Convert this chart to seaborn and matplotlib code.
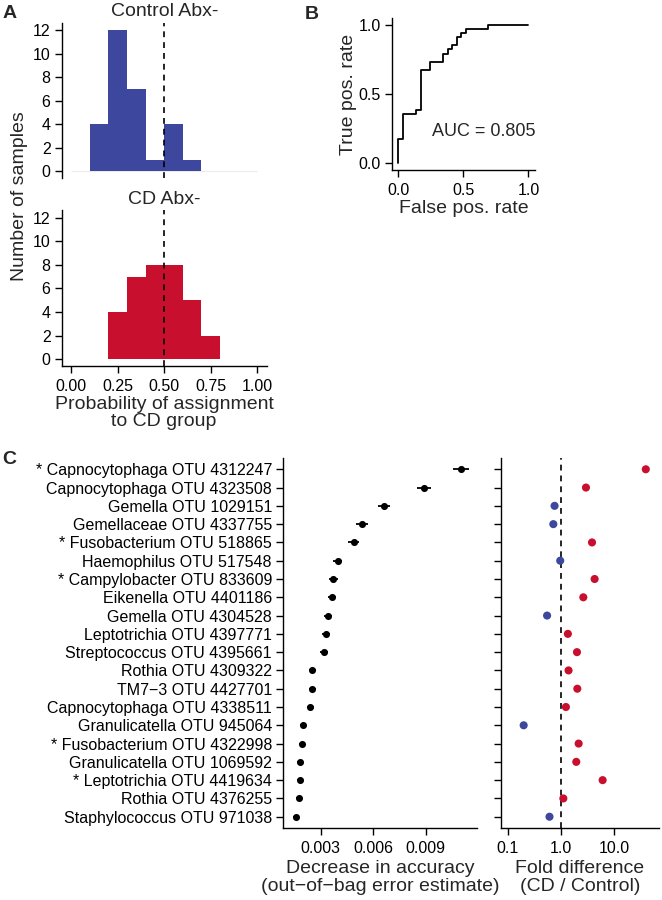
import numpy as np
import pandas as pd
import matplotlib
matplotlib.use("Agg")
import matplotlib.pyplot as plt
import seaborn as sns

# ---------------- data ----------------
bin_edges = [0.0, 0.1, 0.2, 0.3, 0.4, 0.5, 0.6, 0.7, 0.8, 0.9, 1.0]
bin_centers = [0.05, 0.15, 0.25, 0.35, 0.45, 0.55, 0.65, 0.75, 0.85, 0.95]
control_counts = [0, 4, 12, 7, 1, 4, 1, 0, 0, 0]
cd_counts = [0, 0, 4, 7, 8, 8, 5, 2, 0, 0]

roc_fpr = [0.0, 0.0, 0.034, 0.138, 0.172, 0.241, 0.345, 0.379, 0.414, 0.448, 0.483, 0.517, 0.690, 1.0]
roc_tpr = [0.0, 0.176, 0.353, 0.382, 0.676, 0.735, 0.794, 0.824, 0.853, 0.912, 0.941, 0.971, 1.0, 1.0]
auc_text = "AUC = 0.805"

otu_labels = [
    "* Capnocytophaga OTU 4312247",
    "Capnocytophaga OTU 4323508",
    "Gemella OTU 1029151",
    "Gemellaceae OTU 4337755",
    "* Fusobacterium OTU 518865",
    "Haemophilus OTU 517548",
    "* Campylobacter OTU 833609",
    "Eikenella OTU 4401186",
    "Gemella OTU 4304528",
    "Leptotrichia OTU 4397771",
    "Streptococcus OTU 4395661",
    "Rothia OTU 4309322",
    "TM7\u22123 OTU 4427701",
    "Capnocytophaga OTU 4338511",
    "Granulicatella OTU 945064",
    "* Fusobacterium OTU 4322998",
    "Granulicatella OTU 1069592",
    "* Leptotrichia OTU 4419634",
    "Rothia OTU 4376255",
    "Staphylococcus OTU 971038",
]
decrease_acc = [0.01101, 0.00891, 0.00661, 0.00535, 0.00489, 0.00396, 0.00373, 0.00363,
                0.00340, 0.00330, 0.00317, 0.00252, 0.00252, 0.00239, 0.00199, 0.00191,
                0.00183, 0.00181, 0.00174, 0.00160]
decrease_err = [0.00046, 0.00041, 0.00036, 0.00033, 0.00032, 0.00026, 0.00024, 0.00024,
                0.00023, 0.00022, 0.00022, 0.00020, 0.00020, 0.00020, 0.00018, 0.00018,
                0.00017, 0.00017, 0.00016, 0.00016]
fold_diff = [39.1, 2.95, 0.76, 0.72, 3.83, 0.97, 4.29, 2.63, 0.55, 1.35,
             2.0, 1.39, 2.03, 1.24, 0.20, 2.15, 1.94, 6.06, 1.11, 0.61]
direction = ["CD", "CD", "Control", "Control", "CD", "Control", "CD", "CD", "Control", "CD",
             "CD", "CD", "CD", "CD", "Control", "CD", "CD", "CD", "CD", "Control"]

BLUE = "#3C479D"
RED = "#C8102E"

# ---------------- style ----------------
sns.set_style("ticks")
plt.rcParams["font.family"] = ["Liberation Sans", "DejaVu Sans"]
plt.rcParams["axes.linewidth"] = 1.0
plt.rcParams["xtick.major.width"] = 1.0
plt.rcParams["ytick.major.width"] = 1.0
plt.rcParams["xtick.major.size"] = 5
plt.rcParams["ytick.major.size"] = 5
plt.rcParams["xtick.color"] = "black"
plt.rcParams["ytick.color"] = "black"
plt.rcParams["axes.edgecolor"] = "black"
plt.rcParams["xtick.labelsize"] = 11.5
plt.rcParams["ytick.labelsize"] = 11.5
plt.rcParams["xtick.major.pad"] = 4.5
plt.rcParams["ytick.major.pad"] = 3

W, H = 662, 900
fig = plt.figure(figsize=(W / 100, H / 100), dpi=100)


def box(l, t, r, b):
    return [l / W, 1 - b / H, (r - l) / W, (b - t) / H]


def ftext(x, y, s, **kw):
    fig.text(x / W, 1 - y / H, s, **kw)


TITLE = 14
LAB = 14

# ---------------- Panel A ----------------
axA1 = fig.add_axes(box(61.7, 23.2, 266.7, 178.3))
axA2 = fig.add_axes(box(61.7, 210.5, 266.7, 366.2))
axA1.hlines(0, 0, 1, color="#ececec", lw=0.8, zorder=0)
for ax, counts, col in [(axA1, control_counts, BLUE), (axA2, cd_counts, RED)]:
    sns.histplot(x=bin_centers, weights=counts, bins=bin_edges, ax=ax, color=col,
                 element="step", fill=True, alpha=1, linewidth=0)
    ax.axvline(0.5, color="black", lw=1.2, ls=(0, (3.5, 3)))
    ax.set_xlim(-0.05, 1.05)
    ax.set_ylim(-0.6, 12.6)
    ax.set_yticks([0, 2, 4, 6, 8, 10, 12])
    ax.set_ylabel("")
    ax.set_xlabel("")
    sns.despine(ax=ax)
axA1.spines["bottom"].set_visible(False)
axA1.tick_params(axis="x", bottom=False, labelbottom=False)
axA2.set_xticks([0, 0.25, 0.5, 0.75, 1.0])
axA2.set_xticklabels(["0.00", "0.25", "0.50", "0.75", "1.00"])
axA1.set_title("Control Abx-", fontsize=TITLE, pad=5)
axA2.set_title("CD Abx-", fontsize=TITLE, pad=5)
ftext(164, 413, "Probability of assignment\nto CD group", fontsize=LAB, ha="center",
      va="center", linespacing=1.05)
ftext(20, 196, "Number of samples", fontsize=LAB, rotation=90, ha="center", va="center")

# ---------------- Panel B ----------------
axB = fig.add_axes(box(391.7, 18.3, 535, 170))
sns.lineplot(x=roc_fpr, y=roc_tpr, ax=axB, color="black", lw=1.3, sort=False,
             drawstyle="steps-post", estimator=None)
axB.set_xlim(-0.05, 1.05)
axB.set_ylim(-0.05, 1.05)
axB.set_xticks([0, 0.5, 1.0])
axB.set_xticklabels(["0.0", "0.5", "1.0"])
axB.set_yticks([0, 0.5, 1.0])
axB.set_yticklabels(["0.0", "0.5", "1.0"])
axB.set_xlabel("False pos. rate", fontsize=LAB, labelpad=1)
axB.set_ylabel("True pos. rate", fontsize=LAB, labelpad=1)
axB.text(0.655, 0.23, auc_text, fontsize=13, ha="center", va="center")
sns.despine(ax=axB)

# ---------------- Panel C ----------------
df = pd.DataFrame({"otu": otu_labels, "decrease": decrease_acc, "err": decrease_err,
                   "fold": fold_diff, "direction": direction})

axC1 = fig.add_axes(box(283, 458.3, 477.3, 827.7))
axC1.errorbar(df["decrease"], df["otu"], xerr=df["err"], fmt="none", ecolor="black",
              elinewidth=1.3, capsize=0)
sns.scatterplot(data=df, x="decrease", y="otu", color="black", s=26, linewidth=0, ax=axC1,
                zorder=3)
axC1.set_xlim(0.00084, 0.01196)
axC1.set_ylim(19.6, -0.6)
axC1.set_xticks([0.003, 0.006, 0.009])
axC1.set_xticklabels(["0.003", "0.006", "0.009"])
axC1.set_ylabel("")
axC1.set_xlabel("Decrease in accuracy\n(out\u2212of\u2212bag error estimate)", fontsize=LAB,
                labelpad=3, linespacing=1.05)
sns.despine(ax=axC1)

axC2 = fig.add_axes(box(500.7, 458.3, 659, 827.7), sharey=axC1)
axC2.set_xscale("log")
sns.scatterplot(data=df, x="fold", y="otu", hue="direction",
                palette={"CD": RED, "Control": BLUE}, s=34, linewidth=0, legend=False,
                ax=axC2, zorder=3)
axC2.axvline(1.0, color="black", lw=1.2, ls=(0, (3.5, 3)))
axC2.set_xlim(10 ** -1.13, 10 ** 1.84)
axC2.set_ylim(19.6, -0.6)
axC2.set_xticks([0.1, 1.0, 10.0])
axC2.set_xticklabels(["0.1", "1.0", "10.0"])
axC2.xaxis.set_minor_locator(matplotlib.ticker.NullLocator())
axC2.tick_params(axis="y", labelleft=False)
axC2.set_ylabel("")
axC2.set_xlabel("Fold difference\n(CD / Control)", fontsize=LAB, labelpad=3, linespacing=1.05)
sns.despine(ax=axC2)

# panel letters
ftext(3, 14, "A", fontsize=14, fontweight="bold", ha="left", va="center")
ftext(305, 14.5, "B", fontsize=14, fontweight="bold", ha="left", va="center")
ftext(2, 460, "C", fontsize=14, fontweight="bold", ha="left", va="center")

fig.savefig("out.png", dpi=100)
